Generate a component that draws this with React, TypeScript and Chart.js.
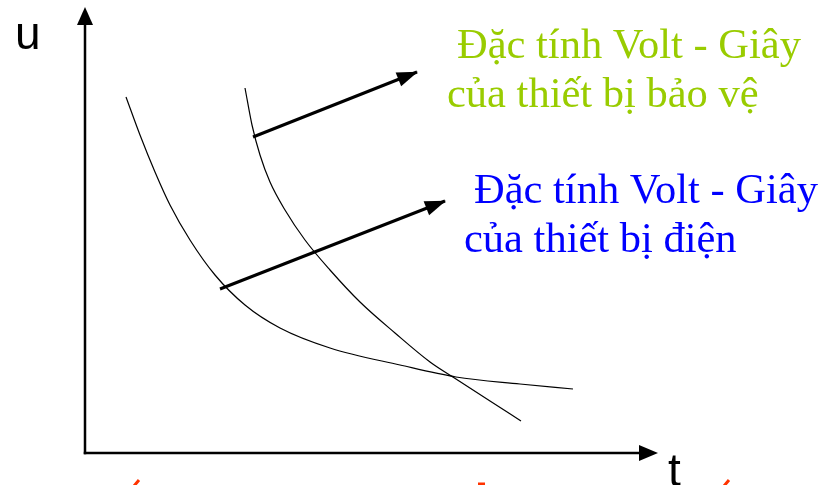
import React, { useEffect, useRef } from "react";
import { Chart, registerables } from "chart.js";

Chart.register(...registerables);

// Curve of the electrical device (left curve)
const deviceT = [4.1, 5.5, 7.0, 8.5, 10.5, 13.0, 16.0, 19.5, 24.5, 31.5, 37.1, 43.5, 48.8];
const deviceU = [35.6, 31.8, 28.1, 24.8, 21.3, 17.8, 14.8, 12.5, 10.5, 8.8, 7.6, 6.9, 6.4];

// Curve of the protective device (right curve)
const protectT = [16.0, 16.7, 17.5, 18.5, 20.0, 22.0, 24.5, 27.5, 31.0, 34.5, 37.1, 40.5, 43.6];
const protectU = [36.5, 32.8, 29.8, 27.1, 24.3, 21.3, 18.3, 15.1, 12.0, 9.1, 7.4, 5.2, 3.2];

// Pointer arrows (start, tip)
const arrowProtectT = [16.8, 33.2];
const arrowProtectU = [31.6, 38.1];
const arrowDeviceT = [13.5, 36.0];
const arrowDeviceU = [16.4, 25.2];

// Axis extents
const axisMaxT = 57.2;
const axisMaxU = 44.5;

// Texts
const axisLabelU = "u";
const axisLabelT = "t";
const protectLabel = ["Đặc tính Volt - Giây", "của thiết bị bảo vệ"];
const deviceLabel = ["Đặc tính Volt - Giây", "của thiết bị điện"];

const GREEN = "#99CC00";
const BLUE = "#0000FF";
const RED = "#FF3300";

function head(ctx: CanvasRenderingContext2D, x0: number, y0: number, x1: number, y1: number, len: number, half: number) {
  const a = Math.atan2(y1 - y0, x1 - x0);
  const cx = Math.cos(a), sx = Math.sin(a);
  const bx = x1 - cx * len, by = y1 - sx * len;
  ctx.beginPath();
  ctx.moveTo(x1 + cx * 1, y1 + sx * 1);
  ctx.lineTo(bx - sx * half, by + cx * half);
  ctx.lineTo(bx + sx * half, by - cx * half);
  ctx.closePath();
  ctx.fill();
}

const decorPlugin = {
  id: "decor",
  afterDatasetsDraw(chart: any) {
    const ctx: CanvasRenderingContext2D = chart.ctx;
    const xs = chart.scales.x, ys = chart.scales.y;
    const X = (v: number) => xs.getPixelForValue(v);
    const Y = (v: number) => ys.getPixelForValue(v);
    ctx.save();
    // axes
    ctx.strokeStyle = "#000";
    ctx.fillStyle = "#000";
    ctx.lineWidth = 2.5;
    ctx.lineCap = "butt";
    ctx.beginPath();
    ctx.moveTo(X(0), Y(0) + 1.25);
    ctx.lineTo(X(0), Y(axisMaxU) + 10);
    ctx.stroke();
    ctx.beginPath();
    ctx.moveTo(X(0) - 1.25, Y(0));
    ctx.lineTo(X(axisMaxT) - 10, Y(0));
    ctx.stroke();
    head(ctx, X(0), Y(0), X(0), Y(axisMaxU), 17, 8);
    head(ctx, X(0), Y(0), X(axisMaxT), Y(0), 18, 8);

    // arrow heads of pointer arrows
    head(ctx, X(arrowProtectT[0]), Y(arrowProtectU[0]), X(arrowProtectT[1]), Y(arrowProtectU[1]), 20, 7.5);
    head(ctx, X(arrowDeviceT[0]), Y(arrowDeviceU[0]), X(arrowDeviceT[1]), Y(arrowDeviceU[1]), 20, 7.5);

    // axis labels
    ctx.font = "46px 'Liberation Sans'";
    ctx.textBaseline = "alphabetic";
    ctx.textAlign = "left";
    ctx.fillText(axisLabelU, X(0) - 70, Y(axisMaxU) + 41);
    ctx.fillText(axisLabelT, X(axisMaxT) + 11, Y(0) + 33);

    // series labels
    ctx.font = "42.5px 'Liberation Serif'";
    ctx.fillStyle = GREEN;
    ctx.fillText(protectLabel[0], 457, 58);
    ctx.fillText(protectLabel[1], 447, 107);
    ctx.fillStyle = BLUE;
    ctx.fillText(deviceLabel[0], 474, 203);
    ctx.fillText(deviceLabel[1], 464, 252);

    // cut-off red caption fragments at the bottom edge
    ctx.strokeStyle = RED;
    ctx.lineWidth = 3;
    ctx.beginPath();
    ctx.moveTo(134, 486); ctx.lineTo(139, 480);
    ctx.moveTo(724, 486); ctx.lineTo(729, 480);
    ctx.moveTo(478, 484); ctx.lineTo(485, 484);
    ctx.stroke();
    ctx.restore();
  },
};

export default function App() {
  const ref = useRef<HTMLCanvasElement | null>(null);
  useEffect(() => {
    if (!ref.current) return;
    const toPts = (t: number[], u: number[]) => t.map((v, i) => ({ x: v, y: u[i] }));
    const chart = new Chart(ref.current, {
      type: "scatter",
      data: {
        datasets: [
          { data: toPts(deviceT, deviceU), showLine: true, borderColor: "#000", borderWidth: 1.2, pointRadius: 0, cubicInterpolationMode: "monotone" },
          { data: toPts(protectT, protectU), showLine: true, borderColor: "#000", borderWidth: 1.2, pointRadius: 0, cubicInterpolationMode: "monotone" },
          { data: toPts(arrowProtectT, arrowProtectU), showLine: true, borderColor: "#000", borderWidth: 3, pointRadius: 0 },
          { data: toPts(arrowDeviceT, arrowDeviceU), showLine: true, borderColor: "#000", borderWidth: 3, pointRadius: 0 },
        ],
      } as any,
      options: {
        responsive: false,
        animation: false,
        devicePixelRatio: 1,
        layout: { padding: 0 },
        plugins: { legend: { display: false }, tooltip: { enabled: false } },
        scales: {
          x: { type: "linear", min: -8.5, max: 74.5, display: false },
          y: { type: "linear", min: -3.2, max: 45.3, display: false },
        },
      } as any,
      plugins: [decorPlugin],
    });
    return () => chart.destroy();
  }, []);
  return (
    <div style={{ position: "fixed", left: 0, top: 0, width: 830, height: 485, background: "#fff" }}>
      <canvas ref={ref} width={830} height={485} style={{ width: 830, height: 485, display: "block" }} />
    </div>
  );
}
